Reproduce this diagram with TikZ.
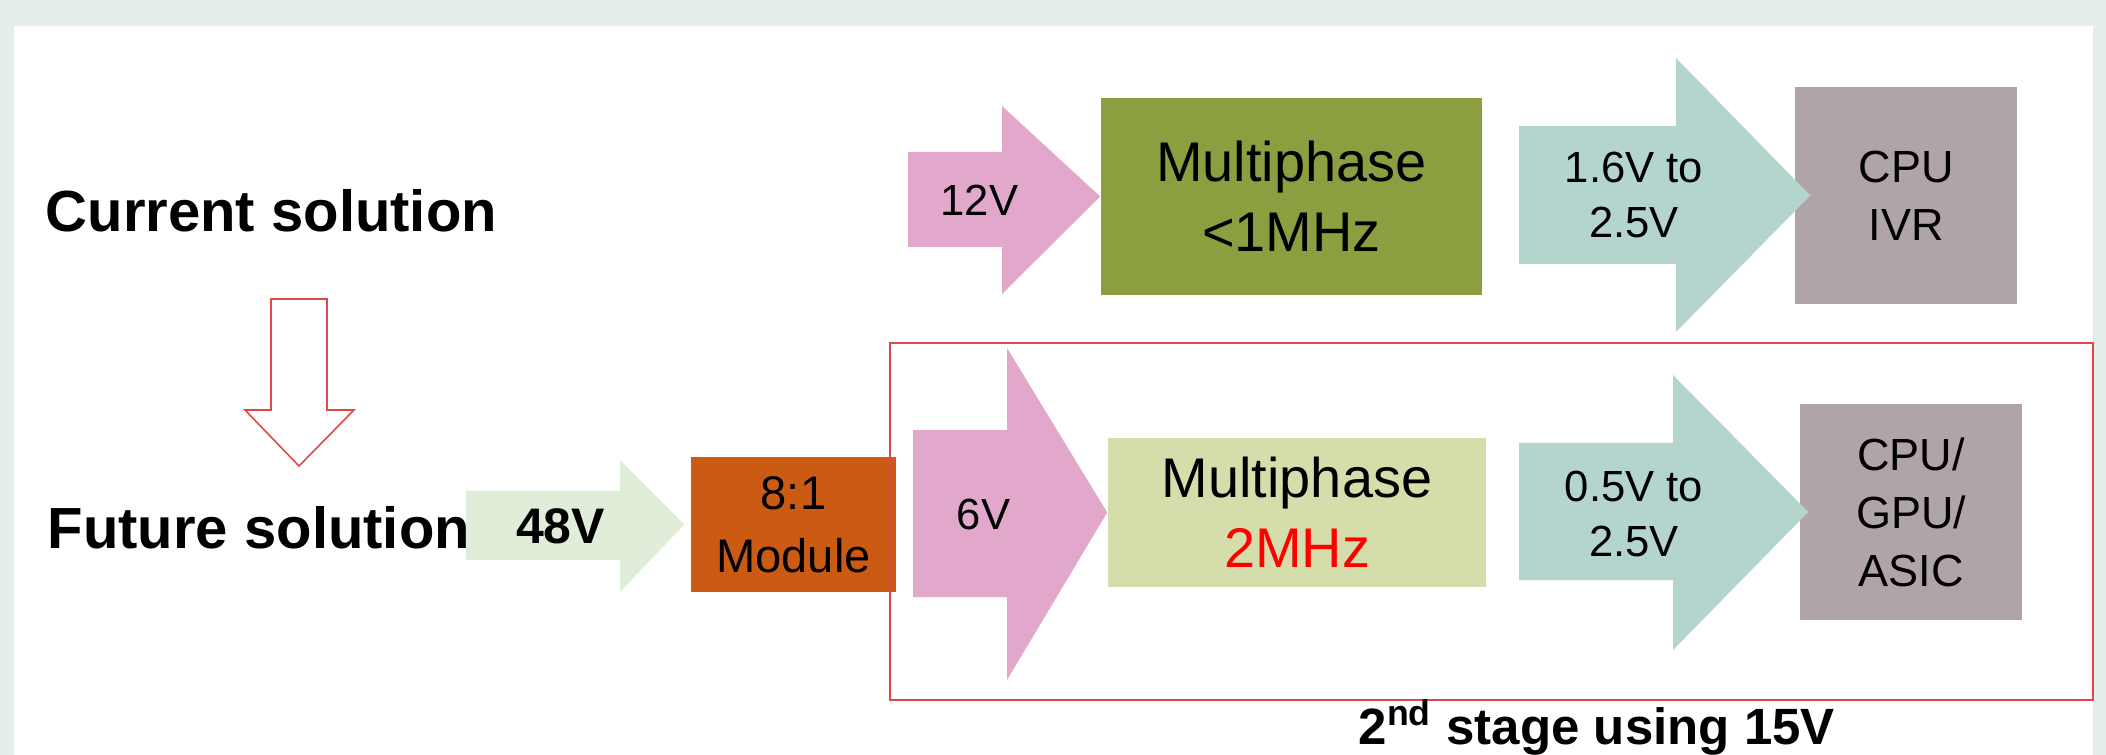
\documentclass[tikz,border=0pt]{standalone}
\usepackage{fontspec}
\setmainfont{Liberation Sans}
\usepackage{xcolor}

\definecolor{bandc}{HTML}{E4EEEA}
\definecolor{pinkv}{HTML}{E1A8CC}
\definecolor{greenv}{HTML}{E0EDD8}
\definecolor{orangem}{HTML}{CB5B12}
\definecolor{olivea}{HTML}{8B9E40}
\definecolor{oliveb}{HTML}{D5DEAB}
\definecolor{tealv}{HTML}{B3D5CE}
\definecolor{chipc}{HTML}{B0A5A6}
\definecolor{redl}{HTML}{E04848}

\begin{document}
\begin{tikzpicture}[
x=0.01cm, y=-0.01cm,
heading/.style={
font=\bfseries\fontsize{16.5}{20}\selectfont,
inner sep=0pt,
anchor=base west
},
block/.style={
inner sep=0pt,
align=center,
font=\fontsize{12.8}{16.5}\selectfont
},
phasebox/.style={
block,
font=\fontsize{15.9}{19.9}\selectfont
},
volts/.style={
inner sep=0pt,
align=center,
font=\fontsize{12.4}{15.4}\selectfont
},
redline/.style={draw=redl,line width=0.57pt}
]

% frame
\fill[bandc] (0,0) rectangle (2106,755);
\fill[white] (14,26) rectangle (2093,755);
\useasboundingbox (0,0) rectangle (2106,755);

% titles
\node[heading] (cur) at (45,232) {Current solution};
\node[heading] (fut) at (47,548) {Future solution};
\draw[draw=redl,line width=0.45pt]
(271,299) -- (327,299) -- (327,410) -- (354,410) -- (299,466)
-- (245,410) -- (271,410) -- cycle;

% current solution
\node[phasebox,fill=olivea,minimum width=3.81cm,minimum height=1.97cm]
(mpA) at (1291.5,196.5) {Multiphase\\<1MHz};
\node[block,fill=chipc,minimum width=2.22cm,minimum height=2.17cm]
(cpuA) at (1906,195.5) {CPU\\IVR};

\fill[pinkv] (908,152) -- (1002,152) -- (1002,106) -- (mpA.west)
-- (1002,294) -- (1002,247) -- (908,247) -- cycle;
\fill[tealv] (1519,126) -- (1676,126) -- (1676,58) -- ([xshift=0.16cm]cpuA.west)
-- (1676,332) -- (1676,264) -- (1519,264) -- cycle;

\node[volts] (v12) at (979.5,200) {12V};
\node[volts] (v16) at (1634,195) {1.6V to\\2.5V};

% future solution
\node[block,fill=orangem,minimum width=2.05cm,minimum height=1.35cm,
font=\fontsize{13.4}{18}\selectfont]
(modB) at (793.5,524.5) {8:1\\Module};
\node[phasebox,fill=oliveb,minimum width=3.78cm,minimum height=1.49cm]
(mpB) at (1297,512.5) {Multiphase\\\textcolor{red}{2MHz}};
\node[block,fill=chipc,minimum width=2.22cm,minimum height=2.16cm]
(cpuB) at (1911,512) {CPU/\\GPU/\\ASIC};

\fill[greenv] (466,491) -- (620,491) -- (620,460) -- ([xshift=-0.06cm]modB.west)
-- (620,592) -- (620,560) -- (466,560) -- cycle;
\fill[pinkv] (913,430) -- (1007,430) -- (1007,348) -- (mpB.west)
-- (1007,680) -- (1007,597) -- (913,597) -- cycle;
\fill[tealv] (1519,443) -- (1673,443) -- (1673,375) -- ([xshift=0.09cm]cpuB.west)
-- (1673,650) -- (1673,580) -- (1519,580) -- cycle;

\node[volts,font=\bfseries\fontsize{14.2}{17}\selectfont] (v48) at (560.5,526.5) {48V};
\node[volts] (v6) at (983.5,514.5) {6V};
\node[volts] (v05) at (1634,514) {0.5V to\\2.5V};

% second stage
\draw[redline] (890,343) rectangle (2093,700);
\node[heading,font=\bfseries\fontsize{14.5}{17}\selectfont] (stage) at (1358,744)
{2\textsuperscript{nd} stage using 15V};

\end{tikzpicture}
\end{document}
